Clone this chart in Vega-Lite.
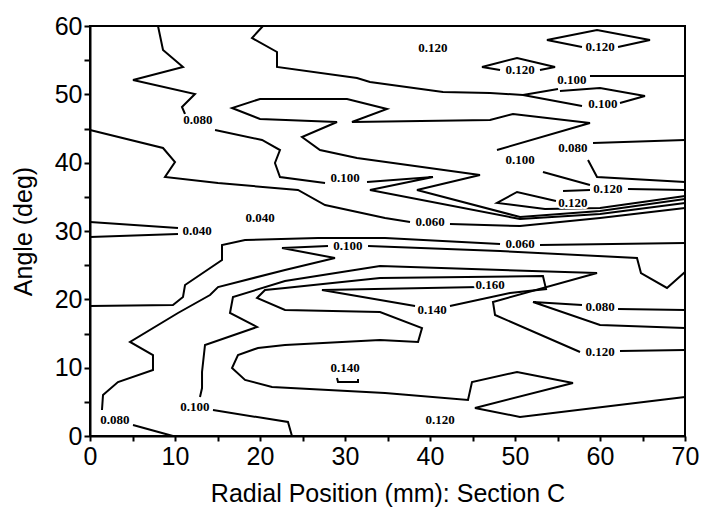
{
"$schema":"https://vega.github.io/schema/vega-lite/v6.json",
"width":595,"height":410,
"autosize":{"type":"none"},
"padding":{"left":90,"top":26,"right":17,"bottom":82},
"background":"white",
"config":{"view":{"stroke":"black","strokeWidth":2}},
"datasets":{
"lines":[
{"id":"L1a","o":1,"x":8.0,"y":60},{"id":"L1a","o":2,"x":8.59,"y":56.49},{"id":"L1a","o":3,"x":10.94,"y":54.0},{"id":"L1a","o":4,"x":5.06,"y":52.1},{"id":"L1a","o":5,"x":12.35,"y":50.05},{"id":"L1a","o":6,"x":10.82,"y":48.15},{"id":"L1a","o":7,"x":11.18,"y":47.12},
{"id":"L1b","o":1,"x":14.71,"y":44.78},{"id":"L1b","o":2,"x":20.24,"y":43.32},{"id":"L1b","o":3,"x":22.35,"y":41.85},{"id":"L1b","o":4,"x":21.76,"y":39.95},{"id":"L1b","o":5,"x":22.35,"y":37.9},{"id":"L1b","o":6,"x":27.65,"y":37.02},
{"id":"L1c","o":1,"x":32.59,"y":37.17},{"id":"L1c","o":2,"x":40.35,"y":37.9},{"id":"L1c","o":3,"x":32.94,"y":36.0},{"id":"L1c","o":4,"x":50.59,"y":31.76},{"id":"L1c","o":5,"x":60.0,"y":32.49},{"id":"L1c","o":6,"x":70,"y":34.1},
{"id":"T1a","o":1,"x":20.35,"y":60},{"id":"T1a","o":2,"x":19.06,"y":58.24},{"id":"T1a","o":3,"x":22.0,"y":56.2},{"id":"T1a","o":4,"x":22.0,"y":54.0},{"id":"T1a","o":5,"x":31.41,"y":52.39},{"id":"T1a","o":6,"x":32.94,"y":51.8},{"id":"T1a","o":7,"x":41.53,"y":50.34},{"id":"T1a","o":8,"x":47.06,"y":50.2},{"id":"T1a","o":9,"x":50.94,"y":49.9},{"id":"T1a","o":10,"x":55.06,"y":50.78},
{"id":"T1b","o":1,"x":58.82,"y":52.68},{"id":"T1b","o":2,"x":64.71,"y":52.68},{"id":"T1b","o":3,"x":70,"y":52.68},
{"id":"W1a","o":1,"x":50.94,"y":49.9},{"id":"W1a","o":2,"x":57.88,"y":48.29},
{"id":"W1b","o":1,"x":62.35,"y":48.73},{"id":"W1b","o":2,"x":65.29,"y":49.76},{"id":"W1b","o":3,"x":60.0,"y":50.93},{"id":"W1b","o":4,"x":55.29,"y":50.49},
{"id":"T2a","o":1,"x":70,"y":36.0},{"id":"T2a","o":2,"x":63.29,"y":36.15},
{"id":"T2b","o":1,"x":58.82,"y":36.73},{"id":"T2b","o":2,"x":53.29,"y":38.63},
{"id":"T2c","o":1,"x":47.88,"y":41.85},{"id":"T2c","o":2,"x":58.82,"y":45.8},{"id":"T2c","o":3,"x":49.76,"y":47.12},{"id":"T2c","o":4,"x":47.06,"y":46.24},{"id":"T2c","o":5,"x":30.82,"y":45.95},{"id":"T2c","o":6,"x":34.94,"y":47.85},{"id":"T2c","o":7,"x":30.24,"y":49.32},{"id":"T2c","o":8,"x":20.0,"y":49.32},{"id":"T2c","o":9,"x":16.71,"y":48.0},{"id":"T2c","o":10,"x":20.0,"y":46.39},{"id":"T2c","o":11,"x":29.06,"y":45.95},{"id":"T2c","o":12,"x":24.94,"y":43.76},{"id":"T2c","o":13,"x":27.06,"y":41.85},{"id":"T2c","o":14,"x":31.41,"y":40.68},{"id":"T2c","o":15,"x":45.88,"y":38.19},{"id":"T2c","o":16,"x":38.47,"y":36.0},{"id":"T2c","o":17,"x":50.59,"y":32.05},{"id":"T2c","o":18,"x":60.0,"y":32.93},{"id":"T2c","o":19,"x":70,"y":34.68},
{"id":"U1a","o":1,"x":70,"y":43.32},{"id":"U1a","o":2,"x":59.18,"y":42.88},
{"id":"U1b","o":1,"x":58.59,"y":40.39},{"id":"U1b","o":2,"x":59.65,"y":37.9},{"id":"U1b","o":3,"x":70,"y":37.17},
{"id":"SM","o":1,"x":55.65,"y":35.85},{"id":"SM","o":2,"x":58.82,"y":36.0},
{"id":"DL","o":1,"x":54.82,"y":34.39},{"id":"DL","o":2,"x":50.24,"y":35.71},{"id":"DL","o":3,"x":47.88,"y":34.1},{"id":"DL","o":4,"x":53.53,"y":33.22},{"id":"DL","o":5,"x":60.0,"y":33.37},{"id":"DL","o":6,"x":70,"y":35.12},
{"id":"LMa","o":1,"x":0,"y":44.78},{"id":"LMa","o":2,"x":8.59,"y":42.15},{"id":"LMa","o":3,"x":10.0,"y":40.1},{"id":"LMa","o":4,"x":8.82,"y":37.9},{"id":"LMa","o":5,"x":15.06,"y":37.02},{"id":"LMa","o":6,"x":24.47,"y":36.0},{"id":"LMa","o":7,"x":27.65,"y":33.8},{"id":"LMa","o":8,"x":34.71,"y":31.9},{"id":"LMa","o":9,"x":37.65,"y":31.32},
{"id":"LMb","o":1,"x":42.35,"y":31.02},{"id":"LMb","o":2,"x":50.59,"y":30.73},{"id":"LMb","o":3,"x":60.0,"y":31.9},{"id":"LMb","o":4,"x":70,"y":33.37},
{"id":"F4a","o":1,"x":0,"y":31.32},{"id":"F4a","o":2,"x":10.35,"y":30.44},
{"id":"F4b","o":1,"x":10.35,"y":29.56},{"id":"F4b","o":2,"x":0,"y":29.12},
{"id":"D1","o":1,"x":57.88,"y":56.93},{"id":"D1","o":2,"x":53.76,"y":57.95},{"id":"D1","o":3,"x":59.65,"y":59.41},{"id":"D1","o":4,"x":65.88,"y":57.95},{"id":"D1","o":5,"x":62.12,"y":56.93},
{"id":"D2","o":1,"x":48.24,"y":53.56},{"id":"D2","o":2,"x":46.12,"y":54.0},{"id":"D2","o":3,"x":50.24,"y":55.32},{"id":"D2","o":4,"x":54.71,"y":54.0},{"id":"D2","o":5,"x":52.94,"y":53.56},
{"id":"B1a","o":1,"x":0,"y":19.02},{"id":"B1a","o":2,"x":9.76,"y":19.17},{"id":"B1a","o":3,"x":10.94,"y":20.34},{"id":"B1a","o":4,"x":11.18,"y":22.1},{"id":"B1a","o":5,"x":15.53,"y":25.76},{"id":"B1a","o":6,"x":15.53,"y":27.95},{"id":"B1a","o":7,"x":18.24,"y":28.68},{"id":"B1a","o":8,"x":26.82,"y":28.98},{"id":"B1a","o":9,"x":34.71,"y":28.98},{"id":"B1a","o":10,"x":48.24,"y":28.1},
{"id":"B1b","o":1,"x":52.94,"y":27.95},{"id":"B1b","o":2,"x":70,"y":28.24},
{"id":"B2a","o":1,"x":9.76,"y":0},{"id":"B2a","o":2,"x":5.06,"y":1.61},
{"id":"B2b","o":1,"x":1.41,"y":3.8},{"id":"B2b","o":2,"x":1.53,"y":6.0},{"id":"B2b","o":3,"x":3.29,"y":7.9},{"id":"B2b","o":4,"x":7.41,"y":9.66},{"id":"B2b","o":5,"x":7.41,"y":11.85},{"id":"B2b","o":6,"x":4.71,"y":13.76},{"id":"B2b","o":7,"x":10.35,"y":18.0},{"id":"B2b","o":8,"x":14.12,"y":20.63},{"id":"B2b","o":9,"x":15.06,"y":21.8},{"id":"B2b","o":10,"x":22.94,"y":24.29},{"id":"B2b","o":11,"x":28.82,"y":26.05},{"id":"B2b","o":12,"x":22.59,"y":27.5},{"id":"B2b","o":13,"x":28.0,"y":27.8},
{"id":"B2c","o":1,"x":32.71,"y":27.8},{"id":"B2c","o":2,"x":48.24,"y":27.07},{"id":"B2c","o":3,"x":64.35,"y":26.05},{"id":"B2c","o":4,"x":64.82,"y":23.85},{"id":"B2c","o":5,"x":67.88,"y":21.66},{"id":"B2c","o":6,"x":70,"y":24.0},
{"id":"B3a","o":1,"x":23.76,"y":0},{"id":"B3a","o":2,"x":23.29,"y":2.05},{"id":"B3a","o":3,"x":14.47,"y":3.8},
{"id":"B3b","o":1,"x":12.94,"y":5.71},{"id":"B3b","o":2,"x":13.18,"y":7.02},{"id":"B3b","o":3,"x":13.18,"y":9.37},{"id":"B3b","o":4,"x":13.53,"y":13.32},{"id":"B3b","o":5,"x":19.65,"y":15.95},{"id":"B3b","o":6,"x":16.47,"y":18.0},{"id":"B3b","o":7,"x":16.82,"y":20.34},{"id":"B3b","o":8,"x":22.94,"y":22.68},{"id":"B3b","o":9,"x":34.12,"y":24.88},{"id":"B3b","o":10,"x":59.65,"y":23.85},{"id":"B3b","o":11,"x":47.41,"y":19.61},{"id":"B3b","o":12,"x":47.65,"y":17.71},{"id":"B3b","o":13,"x":57.65,"y":12.29},
{"id":"B3c","o":1,"x":62.35,"y":12.44},{"id":"B3c","o":2,"x":70,"y":12.59},
{"id":"S14","o":1,"x":42.35,"y":19.02},{"id":"S14","o":2,"x":49.41,"y":20.93},{"id":"S14","o":3,"x":53.65,"y":21.51},{"id":"S14","o":4,"x":53.29,"y":23.41},{"id":"S14","o":5,"x":34.12,"y":23.12},{"id":"S14","o":6,"x":22.94,"y":21.66},{"id":"S14","o":7,"x":20.59,"y":21.37},{"id":"S14","o":8,"x":19.65,"y":20.2},{"id":"S14","o":9,"x":22.94,"y":18.44},{"id":"S14","o":10,"x":34.12,"y":18.15},{"id":"S14","o":11,"x":39.06,"y":15.8},{"id":"S14","o":12,"x":38.59,"y":13.76},{"id":"S14","o":13,"x":34.12,"y":14.05},{"id":"S14","o":14,"x":22.94,"y":13.32},{"id":"S14","o":15,"x":19.76,"y":12.88},{"id":"S14","o":16,"x":17.41,"y":11.85},{"id":"S14","o":17,"x":16.71,"y":9.95},{"id":"S14","o":18,"x":18.24,"y":8.2},{"id":"S14","o":19,"x":21.41,"y":7.17},{"id":"S14","o":20,"x":34.71,"y":6.29},{"id":"S14","o":21,"x":44.47,"y":5.27},{"id":"S14","o":22,"x":44.94,"y":7.9},{"id":"S14","o":23,"x":50.24,"y":9.37},{"id":"S14","o":24,"x":56.82,"y":7.76},{"id":"S14","o":25,"x":45.29,"y":4.1},{"id":"S14","o":26,"x":50.59,"y":2.78},{"id":"S14","o":27,"x":70,"y":5.71},
{"id":"S16","o":1,"x":45.88,"y":21.8},{"id":"S16","o":2,"x":27.29,"y":21.37},{"id":"S16","o":3,"x":38.24,"y":19.02},
{"id":"X1a","o":1,"x":70,"y":18.44},{"id":"X1a","o":2,"x":62.12,"y":18.59},
{"id":"X1b","o":1,"x":57.88,"y":19.17},{"id":"X1b","o":2,"x":52.12,"y":19.61},{"id":"X1b","o":3,"x":60.0,"y":16.24},{"id":"X1b","o":4,"x":70,"y":15.8},
{"id":"CU","o":1,"x":29.06,"y":8.49},{"id":"CU","o":2,"x":29.18,"y":7.9},{"id":"CU","o":3,"x":31.53,"y":7.9},{"id":"CU","o":4,"x":31.53,"y":8.34}
],
"labels":[
{"t":"0.120","x":40.35,"y":56.78},{"t":"0.120","x":60.0,"y":56.93},{"t":"0.120","x":50.59,"y":53.56},
{"t":"0.100","x":56.7,"y":52.1},{"t":"0.100","x":60.35,"y":48.59},{"t":"0.080","x":12.7,"y":46.24},
{"t":"0.100","x":50.59,"y":40.39},{"t":"0.080","x":56.82,"y":42.15},{"t":"0.100","x":30.0,"y":37.76},
{"t":"0.120","x":60.94,"y":36.15},{"t":"0.120","x":56.82,"y":34.1},{"t":"0.040","x":20.0,"y":31.9},
{"t":"0.060","x":40.0,"y":31.32},{"t":"0.040","x":12.59,"y":30.0},{"t":"0.100","x":30.35,"y":27.8},
{"t":"0.060","x":50.59,"y":28.1},{"t":"0.160","x":47.06,"y":22.1},{"t":"0.140","x":40.24,"y":18.44},
{"t":"0.080","x":60.0,"y":18.88},{"t":"0.120","x":60.0,"y":12.29},{"t":"0.140","x":30.0,"y":9.95},
{"t":"0.100","x":12.35,"y":4.24},{"t":"0.080","x":2.94,"y":2.34},{"t":"0.120","x":41.18,"y":2.34}
]
},
"encoding":{
"x":{"field":"x","type":"quantitative","scale":{"domain":[0,70],"nice":false,"zero":false},
"axis":{"values":[0,5,10,15,20,25,30,35,40,45,50,55,60,65,70],"labelExpr":"datum.value % 10 === 0 ? datum.label : ''","title":"Radial Position (mm): Section C","grid":false,"tickSize":5,"tickWidth":2,"tickColor":"black","domainColor":"black","domainWidth":2,"labelFont":"Liberation Sans","labelFontSize":25,"labelColor":"black","labelPadding":3,"labelFlush":false,"labelOverlap":false,"titleFont":"Liberation Sans","titleFontSize":25,"titleFontWeight":"normal","titleColor":"black","titlePadding":12}},
"y":{"field":"y","type":"quantitative","scale":{"domain":[0,60],"nice":false,"zero":false},
"axis":{"values":[0,5,10,15,20,25,30,35,40,45,50,55,60],"labelExpr":"datum.value % 10 === 0 ? datum.label : ''","title":"Angle (deg)","grid":false,"tickSize":6,"tickWidth":2,"tickColor":"black","domainColor":"black","domainWidth":2,"labelFont":"Liberation Sans","labelFontSize":25,"labelColor":"black","labelPadding":2,"labelFlush":false,"labelOverlap":false,"titleFont":"Liberation Sans","titleFontSize":25,"titleFontWeight":"normal","titleColor":"black","titlePadding":18}}
},
"layer":[
{"data":{"name":"lines"},"mark":{"type":"line","color":"black","strokeWidth":2,"strokeJoin":"miter"},
"encoding":{"detail":{"field":"id","type":"nominal"},"order":{"field":"o","type":"quantitative"}}},
{"data":{"name":"labels"},"mark":{"type":"text","font":"Liberation Serif","fontSize":13,"fontWeight":"bold","fill":"white","stroke":"white","strokeWidth":4},
"encoding":{"text":{"field":"t","type":"nominal"}}},
{"data":{"name":"labels"},"mark":{"type":"text","font":"Liberation Serif","fontSize":13,"fontWeight":"bold","color":"black"},
"encoding":{"text":{"field":"t","type":"nominal"}}}
]
}
